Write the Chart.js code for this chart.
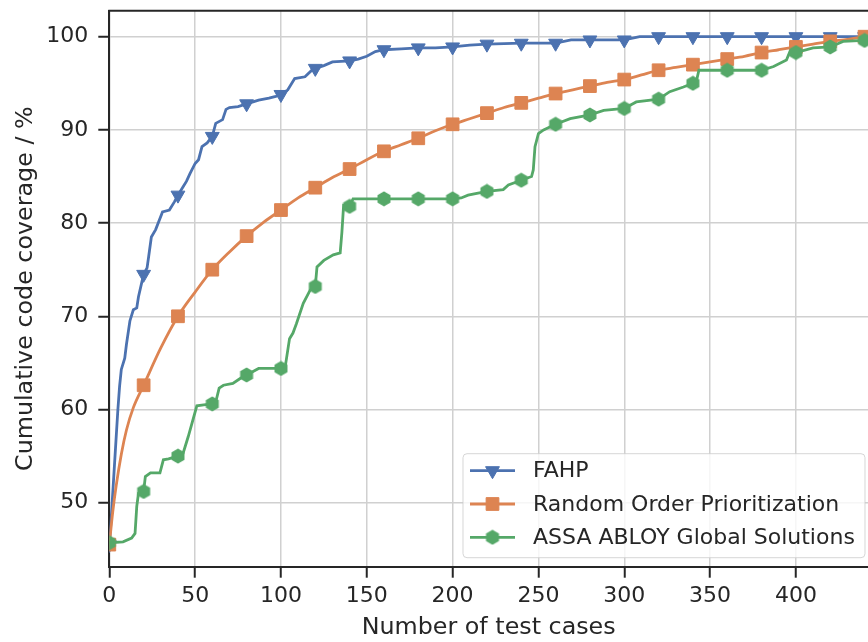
<!DOCTYPE html>
<html>
<head>
<meta charset="utf-8">
<script src="https://cdn.jsdelivr.net/npm/chart.js@4.4.0/dist/chart.umd.min.js"></script>
<style>
  body { margin: 0; background: #fff; }
  canvas { display: block; }
</style>
</head>
<body>
<canvas id="chart" width="868" height="642"></canvas>
<script>
const seriesNames = ["FAHP", "Random Order Prioritization", "ASSA ABLOY Global Solutions"];
const seriesColors = ["#4c72b0", "#dd8452", "#55a868"];

// FAHP
const fahpX = [0, 1, 2, 3, 4, 5, 6, 7, 9, 10, 12, 14, 16, 17, 20, 22, 23, 24.5, 27, 31, 35, 38, 40, 43, 45, 47, 50, 52, 54, 57, 60,
  62, 66, 68, 70, 75, 80, 87, 93, 97, 100, 104, 108, 114, 118, 120, 125, 130, 140, 145, 150, 155, 160, 170, 180, 190, 200,
  210, 220, 240, 260, 269, 280, 300, 309, 320, 340, 360, 380, 400, 420, 440];
const fahpY = [45.5, 48, 51, 54, 57, 60, 62.5, 64.3, 65.5, 67, 69.5, 70.7, 70.9, 72.1, 74.5, 75.2, 76.5, 78.5, 79.3, 81.2, 81.4, 82.3, 83.0, 83.9, 84.5, 85.3, 86.4, 86.8, 88.2, 88.6, 89.3,
  90.7, 91.1, 92.2, 92.4, 92.5, 92.8, 93.2, 93.4, 93.6, 93.8, 94.3, 95.5, 95.7, 96.4, 96.6, 96.9, 97.3, 97.4, 97.6, 97.9, 98.4, 98.6, 98.7, 98.8, 98.8, 98.9,
  99.1, 99.2, 99.3, 99.3, 99.65, 99.65, 99.65, 100, 100, 100, 100, 100, 100, 100, 100];

// Random Order Prioritization
const randomX = [0, 2, 4, 7, 10, 14, 20, 30, 40, 50, 60, 70, 80, 90, 100, 110, 120, 130, 140, 150, 160, 170, 180, 190, 200,
  210, 220, 230, 240, 250, 260, 270, 280, 290, 300, 310, 320, 330, 340, 350, 360, 370, 380, 390, 400, 410, 420, 430, 440];
const randomY = [45.5, 49, 51.8, 55.2, 57.8, 60.2, 62.6, 66.6, 70.0, 72.6, 75.0, 76.9, 78.6, 80.1, 81.4, 82.7, 83.8, 84.9, 85.8, 86.8, 87.7, 88.4, 89.1, 89.9, 90.6,
  91.2, 91.8, 92.4, 92.9, 93.4, 93.9, 94.3, 94.7, 95.1, 95.4, 95.9, 96.4, 96.7, 97.0, 97.3, 97.6, 97.9, 98.3, 98.6, 98.9, 99.2, 99.5, 99.7, 100];

// ASSA ABLOY Global Solutions
const assaX = [0, 8, 13, 15, 16, 17, 20, 21, 24, 29.5, 31.5, 34.5, 40, 43, 46, 51, 55, 60, 62, 64, 66.5, 72, 76, 80, 87, 100, 102.5,
  105, 107, 109, 113, 117, 120, 121, 125, 130.5, 134.5, 135.5, 136.5, 140, 142, 160, 180, 200, 205, 209, 220, 229.5, 232.5, 240, 246,
  247, 248, 250, 253, 260, 268.5, 280, 288, 300, 307, 320, 326.5, 334.5, 340, 342, 343.5, 360, 380, 387, 394.5, 396.5, 400,
  410, 420, 427.5, 440];
const assaY = [45.7, 45.8, 46.2, 46.7, 49.6, 51.0, 51.2, 52.8, 53.2, 53.2, 54.6, 54.7, 55.0, 55.3, 57.1, 60.4, 60.5, 60.6, 60.8, 62.3, 62.6, 62.8, 63.3, 63.7, 64.4, 64.4, 64.6,
  67.6, 68.2, 69.2, 71.4, 72.8, 73.2, 75.3, 76.0, 76.6, 76.8, 79.0, 81.9, 81.8, 82.6, 82.6, 82.6, 82.6, 82.7, 83.0, 83.4, 83.6, 84.1, 84.6, 85.0,
  85.7, 88.2, 89.6, 90.0, 90.6, 91.2, 91.6, 92.1, 92.3, 93.0, 93.3, 94.1, 94.6, 95.0, 95.2, 96.4, 96.4, 96.4, 96.8, 97.5, 98.4, 98.3,
  98.8, 98.9, 99.5, 99.6];

const xTicks = [0, 50, 100, 150, 200, 250, 300, 350, 400];
const yTicks = [50, 60, 70, 80, 90, 100];

const FONT = "'DejaVu Sans', sans-serif";
const INK = "#262626";

function toPoints(xs, ys) {
  return xs.map((x, i) => ({ x: x, y: ys[i] }));
}

// matplotlib style hexagon marker
function hexagon(color, size) {
  const c = document.createElement("canvas");
  c.width = size; c.height = size;
  const g = c.getContext("2d");
  const r = size / 2 - 0.5;
  g.beginPath();
  for (let k = 0; k < 6; k++) {
    const a = Math.PI / 2 + k * Math.PI / 3;
    const px = size / 2 + r * Math.cos(a);
    const py = size / 2 - r * Math.sin(a);
    if (k === 0) g.moveTo(px, py); else g.lineTo(px, py);
  }
  g.closePath();
  g.fillStyle = color;
  g.fill();
  return c;
}

const markEvery20 = r => ctx => (ctx.raw && ctx.raw.x % 20 === 0 ? r : 0);

const frameAndLegend = {
  id: "frameAndLegend",
  afterDraw(chart) {
    const { ctx, chartArea } = chart;
    ctx.save();
    // top spine
    ctx.strokeStyle = INK;
    ctx.lineWidth = 2;
    ctx.beginPath();
    ctx.moveTo(chartArea.left - 1, chartArea.top);
    ctx.lineTo(chartArea.right, chartArea.top);
    ctx.stroke();

    // legend box in lower right
    const bw = 402, bh = 104;
    const bx = chartArea.right - 3 - bw;
    const by = chartArea.bottom - 9 - bh;
    ctx.beginPath();
    ctx.roundRect(bx, by, bw, bh, 4);
    ctx.fillStyle = "rgba(255,255,255,0.8)";
    ctx.fill();
    ctx.strokeStyle = "rgba(204,204,204,0.8)";
    ctx.lineWidth = 1;
    ctx.stroke();

    ctx.font = "22px " + FONT;
    ctx.textBaseline = "middle";
    ctx.textAlign = "left";
    chart.data.datasets.forEach((ds, i) => {
      const rowY = by + 17 + i * 33.3;
      ctx.strokeStyle = ds.borderColor;
      ctx.lineWidth = 2.8;
      ctx.beginPath();
      ctx.moveTo(bx + 7, rowY);
      ctx.lineTo(bx + 52, rowY);
      ctx.stroke();
      ctx.fillStyle = ds.backgroundColor;
      ctx.strokeStyle = ds.borderColor;
      ctx.lineWidth = 1;
      Chart.helpers.drawPoint(ctx, {
        pointStyle: ds.pointStyle,
        rotation: ds.rotation || 0,
        radius: ds.legendRadius,
        borderWidth: 1
      }, bx + 29.5, rowY);
      ctx.fillStyle = INK;
      ctx.fillText(ds.label, bx + 70, rowY + 1);
    });
    ctx.restore();
  }
};

new Chart(document.getElementById("chart"), {
  type: "line",
  data: {
    datasets: [
      {
        label: seriesNames[0],
        data: toPoints(fahpX, fahpY),
        borderColor: seriesColors[0],
        backgroundColor: seriesColors[0],
        borderWidth: 2.8,
        pointStyle: "triangle",
        rotation: 180,
        pointRadius: markEvery20(8),
        legendRadius: 8,
        pointBorderWidth: 1,
        order: 3
      },
      {
        label: seriesNames[1],
        data: toPoints(randomX, randomY),
        borderColor: seriesColors[1],
        backgroundColor: seriesColors[1],
        borderWidth: 2.8,
        cubicInterpolationMode: "monotone",
        pointStyle: "rect",
        pointRadius: markEvery20(9),
        legendRadius: 9,
        pointBorderWidth: 1,
        order: 2
      },
      {
        label: seriesNames[2],
        data: toPoints(assaX, assaY),
        borderColor: seriesColors[2],
        backgroundColor: seriesColors[2],
        borderWidth: 2.8,
        pointStyle: hexagon(seriesColors[2], 16),
        pointRadius: markEvery20(8),
        legendRadius: 8,
        pointBorderWidth: 0,
        order: 1
      }
    ]
  },
  options: {
    responsive: false,
    animation: false,
    clip: 0,
    layout: { autoPadding: false, padding: { top: 10.7, right: 0, left: 0, bottom: 0 } },
    plugins: {
      legend: { display: false },
      tooltip: { enabled: false }
    },
    elements: { point: { hoverRadius: 0 } },
    scales: {
      x: {
        type: "linear",
        min: 0,
        max: 442,
        afterBuildTicks: s => { s.ticks = xTicks.map(v => ({ value: v })); },
        afterFit: s => { s.height = 75.3; s.paddingLeft = 0; s.paddingRight = 0; },
        ticks: { color: INK, font: { family: FONT, size: 22 }, padding: 5, maxRotation: 0 },
        grid: { color: "#d0d0d0", lineWidth: 1.5, tickColor: INK, tickLength: 11, tickWidth: 2 },
        border: { display: true, color: INK, width: 2 },
        title: {
          display: true,
          text: "Number of test cases",
          color: INK,
          font: { family: FONT, size: 23.8 },
          padding: { top: 0, bottom: 0 }
        }
      },
      y: {
        type: "linear",
        min: 43.13,
        max: 102.79,
        afterBuildTicks: s => { s.ticks = yTicks.map(v => ({ value: v })); },
        afterFit: s => { s.width = 109.3; s.paddingTop = 0; s.paddingBottom = 0; },
        ticks: { color: INK, font: { family: FONT, size: 22 }, padding: 10 },
        grid: { color: "#d0d0d0", lineWidth: 1.5, tickColor: INK, tickLength: 11, tickWidth: 2 },
        border: { display: true, color: INK, width: 2 },
        title: {
          display: true,
          text: "Cumulative code coverage / %",
          color: INK,
          font: { family: FONT, size: 23.8 },
          padding: { top: 12, bottom: 0 }
        }
      }
    }
  },
  plugins: [frameAndLegend]
});
</script>
</body>
</html>
